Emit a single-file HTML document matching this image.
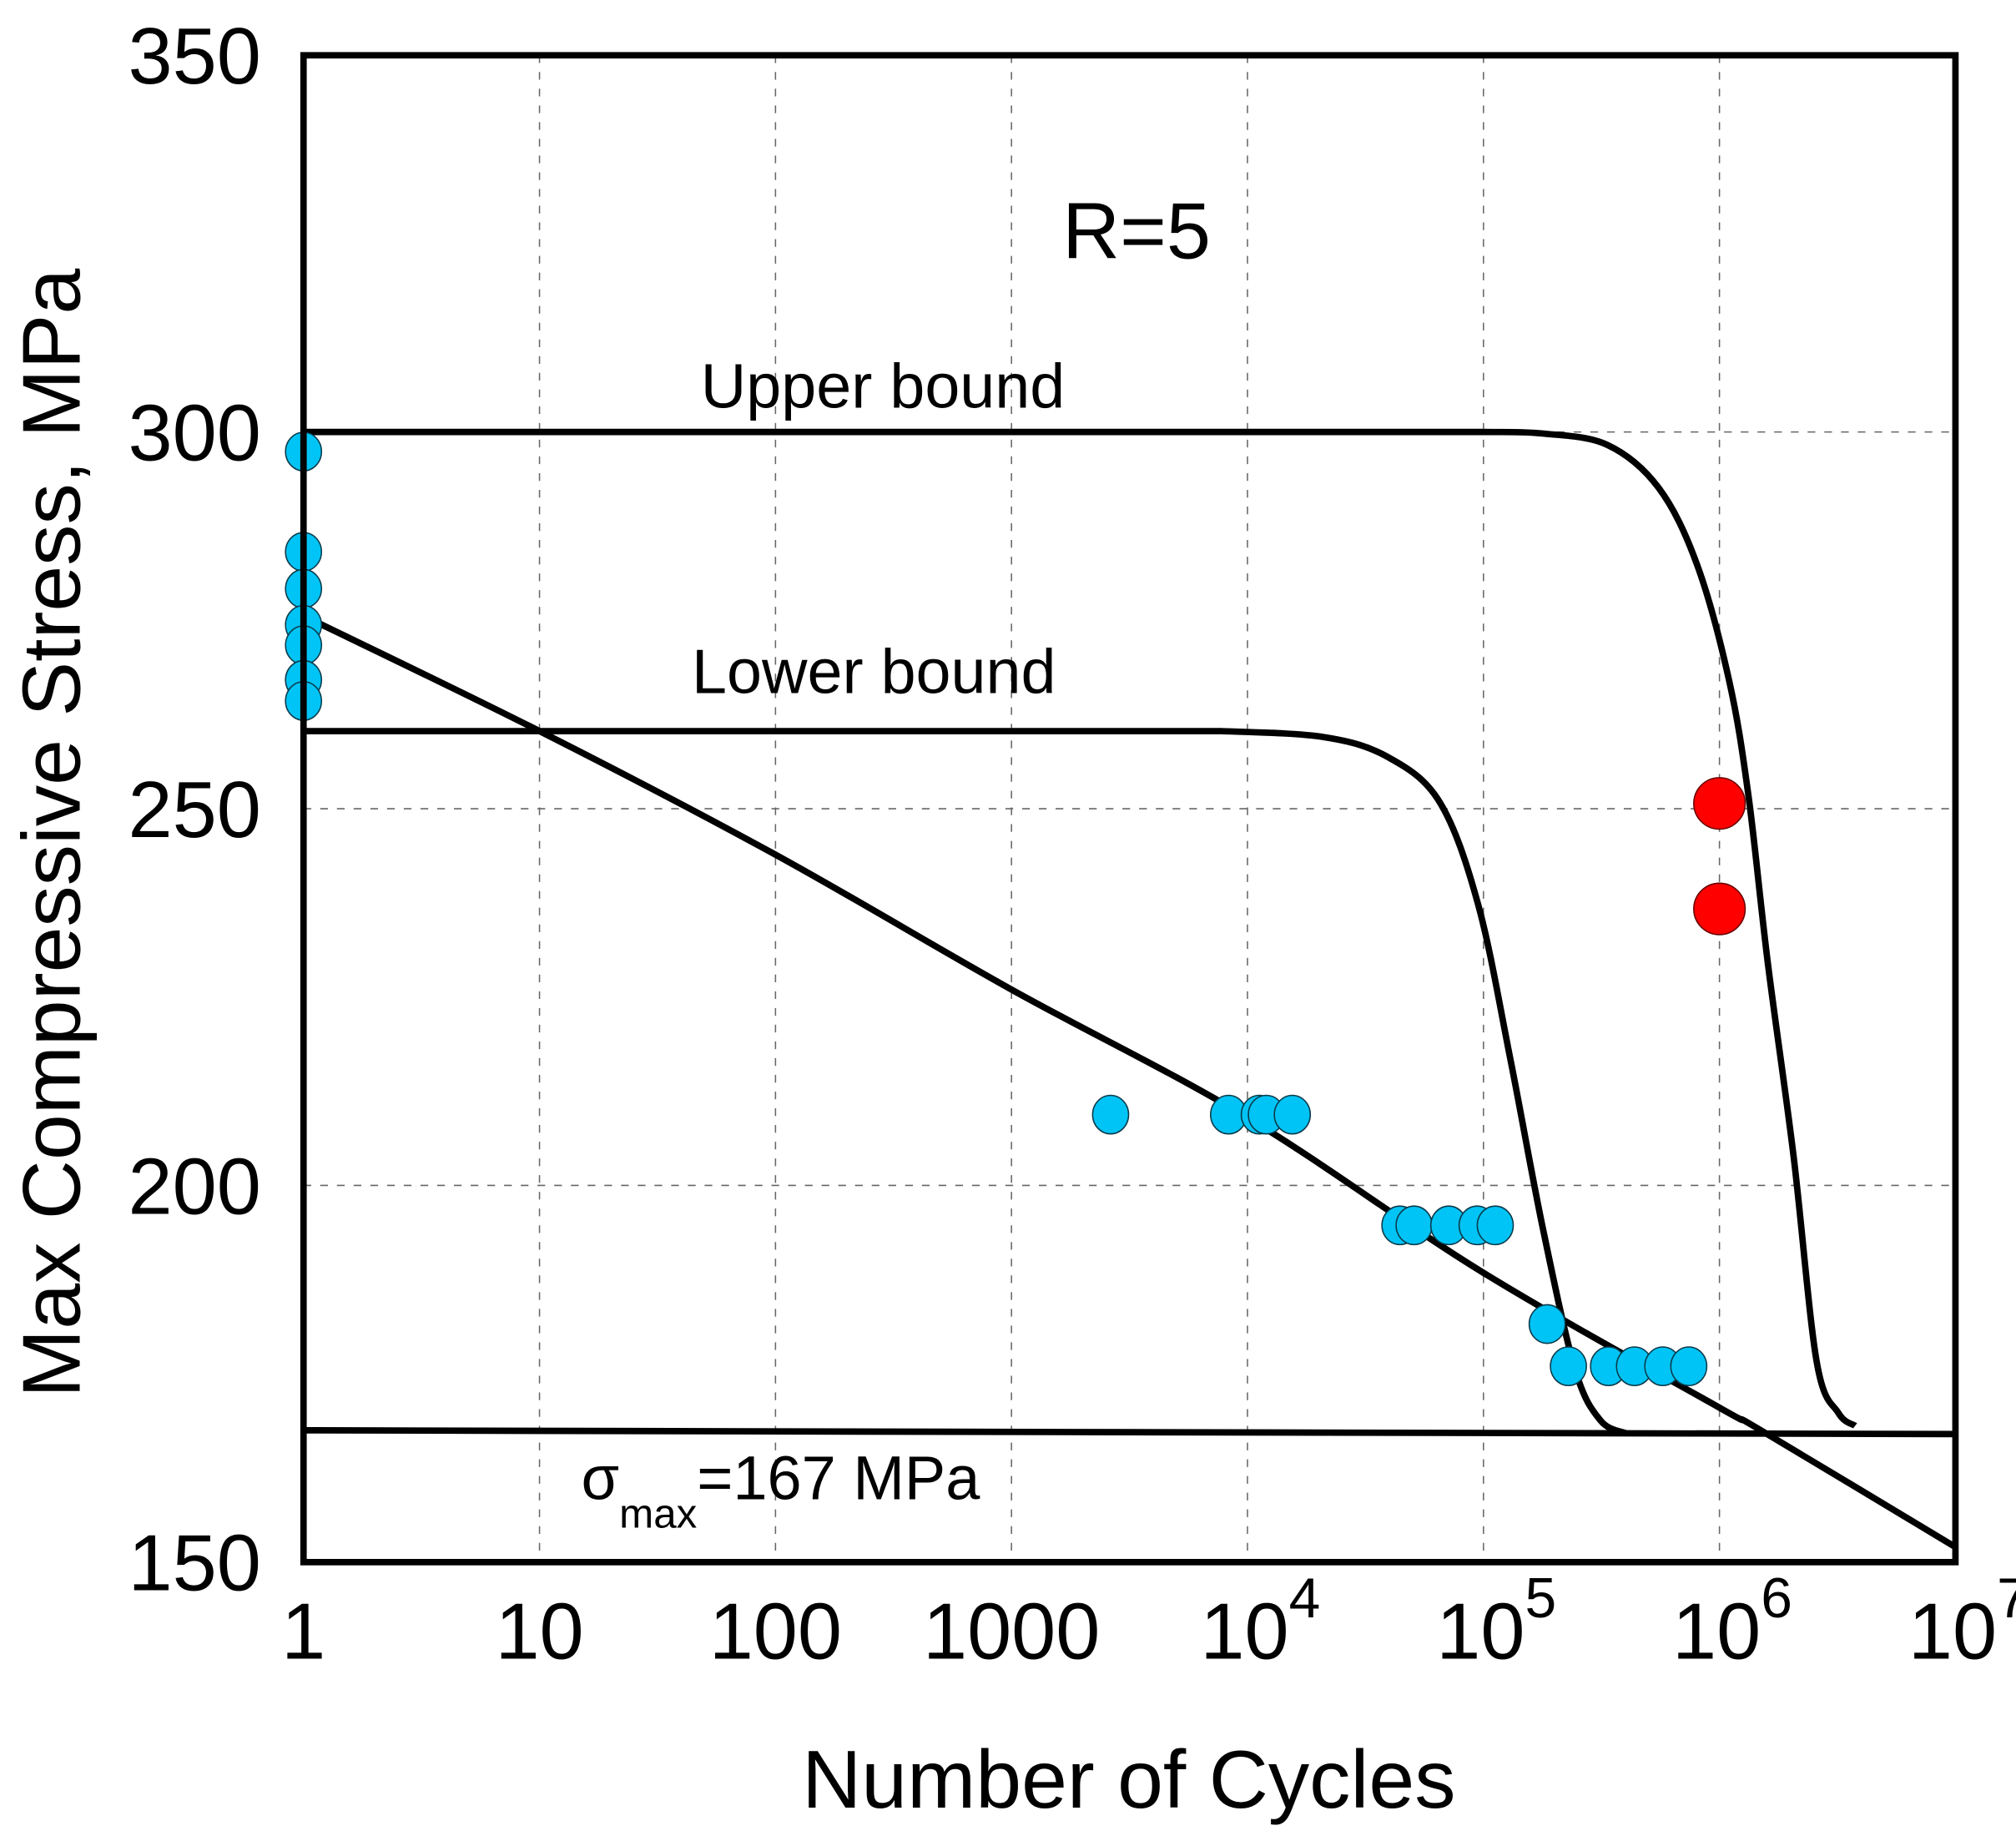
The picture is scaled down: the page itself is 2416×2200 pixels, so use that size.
<!DOCTYPE html>
<html><head><meta charset="utf-8"><style>html,body{margin:0;padding:0;background:#fff}svg{display:block}</style></head>
<body>
<svg width="2416" height="2200" viewBox="0 0 1568 1428" xmlns="http://www.w3.org/2000/svg" font-family="Liberation Sans, Arial, sans-serif">
<g id="grid"></g>
<g id="curves"></g>
<g id="pts"></g>
<rect x="236" y="43" width="1285" height="1172" fill="none" stroke="#000" stroke-width="5"/>
<g id="ticks" font-size="62"></g>
<text x="884" y="201" font-size="62" text-anchor="middle">R=5</text>
<text x="545" y="317" font-size="49">Upper bound</text>
<text x="538" y="539" font-size="49">Lower bound</text>
<text x="452" y="1166" font-size="48">σ<tspan font-size="32" dy="22">max</tspan><tspan dy="-22">=167 MPa</tspan></text>
<text x="878" y="1406" font-size="64" text-anchor="middle">Number of Cycles</text>
<text transform="translate(62,648) rotate(-90)" font-size="64" text-anchor="middle">Max Compressive Stress, MPa</text>
</svg>
<script>
const yTicks=[150,200,250,300,350];
const xDecades=[0,1,2,3,4,5,6,7];
const xLabels=["1","10","100","1000","10^4","10^5","10^6","10^7"];
const blueLogN=[0,0,0,0,0,0,0,3.42,3.92,4.05,4.08,4.19,4.646,4.706,4.853,4.973,5.05,5.27,5.36,5.53,5.64,5.76,5.87];
const blueStress=[297.4,284.1,279.2,274.4,271.7,267.1,264.3,209.4,209.4,209.4,209.4,209.4,194.7,194.7,194.7,194.7,194.7,181.6,176,176,176,176,176];
const redLogN=[6.0,6.0];
const redStress=[250.7,236.7];
const fitLogN=[0,1,2,3,4,5,6,6.17,7];
const fitStress=[275.6,260.3,243.9,226,209,188.4,170.5,167.6,152];
const upperLogN=[0,4.8,5.0,5.25,5.524,5.742,5.905,6.041,6.123,6.205,6.314,6.412,6.504,6.575];
const upperStress=[300,300,300,299.8,298.3,292.6,282.4,267.0,251.7,229.5,203.9,176.6,169.8,168.1];
const lowerLogN=[0,3.7,3.89,4.325,4.598,4.816,4.979,5.115,5.251,5.388,5.496,5.605];
const lowerStress=[260.3,260.3,260.3,259.5,256.8,250.8,237.1,216.6,194.4,175.6,168.8,167.1];
const endLimitLogN=[0,7];
const endLimitStress=[167.5,167];
const NS="http://www.w3.org/2000/svg";
const X=l=>236+l*(1285/7);
const Y=s=>1215-(s-150)*(1172/200);
function mk(t,a,p){const e=document.createElementNS(NS,t);for(const k in a)e.setAttribute(k,a[k]);p.appendChild(e);return e;}
const grid=document.getElementById('grid');
xDecades.slice(1,7).forEach(d=>{
 const l=mk('line',{x1:X(d),x2:X(d),y1:43,y2:1215,stroke:'#666','stroke-width':1,'stroke-dasharray':'6 7'},grid);
 
 
});
yTicks.slice(1,4).forEach(v=>{
 const l=mk('line',{x1:236,x2:1521,y1:Y(v),y2:Y(v),stroke:'#666','stroke-width':1,'stroke-dasharray':'6 7'},grid);
 
 
});
const ticks=document.getElementById('ticks');
yTicks.forEach(v=>{
 const t=mk('text',{x:203,y:Y(v)+22,'text-anchor':'end'},ticks);t.textContent=v;
 
 
});
xDecades.forEach((d,i)=>{
 const lab=xLabels[i];
 const t=mk('text',{x:X(d),y:1290,'text-anchor':'middle'},ticks);
 
 
 if(lab.indexOf('^')>0){const [b,e]=lab.split('^');t.textContent=b;const s=mk('tspan',{'font-size':44,dy:-32},t);s.textContent=e;t.setAttribute('x',X(d)+10);}
 else t.textContent=lab;
});
const curves=document.getElementById('curves');
function smooth(xs,ys,name){
 const P=xs.map((l,i)=>[X(l),Y(ys[i])]);
 let d='M'+P[0][0]+','+P[0][1];
 for(let i=0;i<P.length-1;i++){
  const p0=P[Math.max(0,i-1)],p1=P[i],p2=P[i+1],p3=P[Math.min(P.length-1,i+2)];
  let c1=[p1[0]+(p2[0]-p0[0])/6,p1[1]+(p2[1]-p0[1])/6];
  let c2=[p2[0]-(p3[0]-p1[0])/6,p2[1]-(p3[1]-p1[1])/6];
  if(p1[1]===p2[1]&&p0[1]===p1[1]){c1=[p1[0]+(p2[0]-p1[0])/3,p1[1]];}
  if(p1[1]===p2[1]){c2=[p2[0]-(p2[0]-p1[0])/3,p2[1]];c1=[c1[0],p1[1]];}
  d+=' C'+c1[0]+','+c1[1]+' '+c2[0]+','+c2[1]+' '+p2[0]+','+p2[1];
 }
 const p=mk('path',{d:d,fill:'none',stroke:'#000','stroke-width':5,'stroke-linejoin':'round'},curves);
 
 
}
smooth(endLimitLogN,endLimitStress,'endurance-limit-line');
smooth(upperLogN,upperStress,'upper-bound-curve');
smooth(lowerLogN,lowerStress,'lower-bound-curve');
smooth(fitLogN,fitStress,'fit-line');
const pts=document.getElementById('pts');
blueLogN.forEach((l,i)=>{
 const c=mk('ellipse',{cx:X(l),cy:Y(blueStress[i]),rx:14,ry:15,fill:'#00c4f5',stroke:'#0a3a4a','stroke-width':1},pts);
 
 
});
redLogN.forEach((l,i)=>{
 const c=mk('ellipse',{cx:X(l),cy:Y(redStress[i]),rx:20,ry:20,fill:'#f00',stroke:'#600','stroke-width':1},pts);
 
 
});
</script>
</body></html>
